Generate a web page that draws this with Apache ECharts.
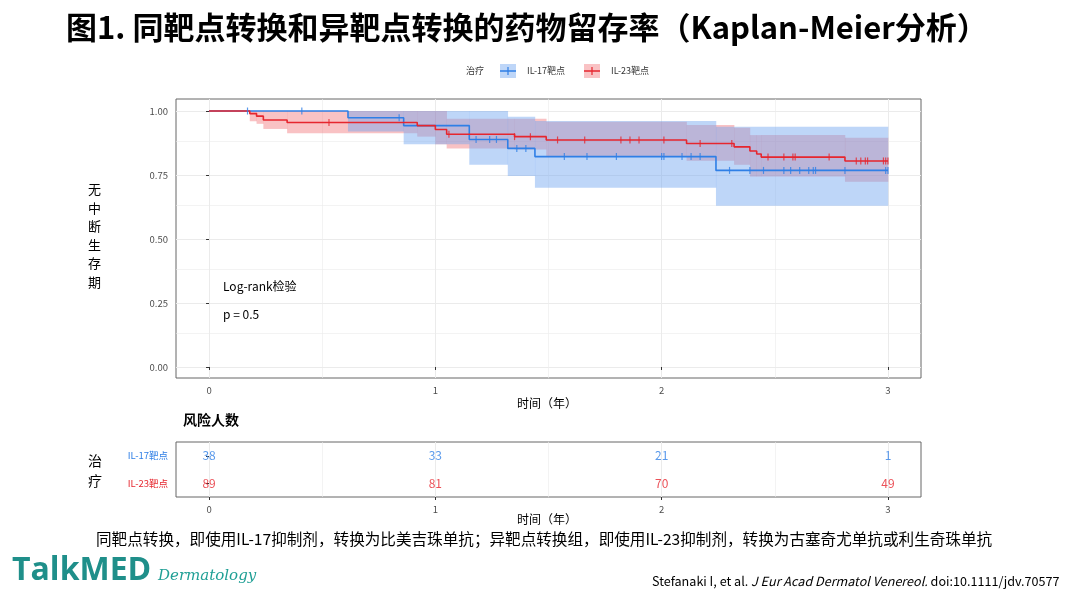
<!DOCTYPE html>
<html><head><meta charset="utf-8">
<script src="https://cdn.jsdelivr.net/npm/echarts@6/dist/echarts.min.js"></script>
<style>html,body{margin:0;padding:0;background:#fff}#c{width:1080px;height:600px}</style>
</head><body><div id="c"></div>
<script>
const blueT=[0,0.614,0.86,1.15,1.32,1.44,2.24,3.0];
const blueS=[1,0.974,0.943,0.889,0.854,0.822,0.768,0.768];
const blueLo=[1,0.92,0.87,0.79,0.746,0.70,0.63,0.63];
const blueHi=[1,1,1,1,0.978,0.961,0.939,0.939];
const redT=[0,0.18,0.21,0.24,0.345,0.92,1.0,1.05,1.35,1.49,2.11,2.32,2.39,2.42,2.44,2.81,3.0];
const redS=[1,0.99,0.98,0.965,0.955,0.943,0.928,0.909,0.90,0.887,0.873,0.86,0.844,0.832,0.82,0.805,0.805];
const redLo=[1,0.96,0.95,0.93,0.913,0.9,0.87,0.854,0.85,0.82,0.806,0.79,0.744,0.744,0.744,0.724,0.724];
const redHi=[1,1,1,1,1,1,1,0.97,0.97,0.958,0.945,0.935,0.906,0.906,0.906,0.896,0.896];
const blueC=[0.17,0.41,0.84,1.18,1.24,1.27,1.36,1.40,1.57,1.67,1.80,2.0,2.01,2.09,2.13,2.17,2.30,2.39,2.45,2.54,2.57,2.61,2.65,2.67,2.68,2.81,2.99,3.0];
const redC=[0.53,1.06,1.35,1.42,1.54,1.66,1.82,1.86,1.90,2.01,2.17,2.31,2.47,2.54,2.58,2.59,2.74,2.86,2.88,2.90,2.91,2.98,2.99,3.0];
const riskT=[0,1,2,3];
const blueRisk=[38,33,21,1];
const redRisk=[89,81,70,49];
const groups=['IL-17靶点','IL-23靶点'];
const xTicks=[0,1,2,3];
const yTicks=[0,0.25,0.5,0.75,1];

const BLUE='#2f7fe6', RED='#e6262e';
const BLUEF='rgba(110,165,240,0.45)', REDF='rgba(240,110,115,0.42)';
const F='"Noto Sans CJK SC","Noto Sans",sans-serif';
function at(T,S,t){let v=S[0];for(let i=0;i<T.length;i++){if(T[i]<=t+1e-9)v=S[i];}return v;}
function pairs(T,S){return T.map((t,i)=>[t,S[i]]);}
function segs(T,L,H){const o=[];for(let i=0;i<T.length-1;i++)o.push([T[i],T[i+1],L[i],H[i]]);return o;}
function band(color){return function(params,api){
  const a=api.coord([api.value(0),api.value(3)]), b=api.coord([api.value(1),api.value(2)]);
  return {type:'rect',shape:{x:a[0],y:a[1],width:b[0]-a[0]+0.3,height:b[1]-a[1]},style:{fill:color}};};}
const gridV=[]; for(let v=0;v<=3;v+=0.5)gridV.push({xAxis:v,lineStyle:{color:'#ebebeb',width:v%1===0?1:0.6,type:'solid'}});
const gridH=[]; for(let v=0;v<=1;v+=0.125)gridH.push({yAxis:v,lineStyle:{color:'#ebebeb',width:(v*4)%1===0?1:0.6,type:'solid'}});
const tk={show:true,length:3,lineStyle:{color:'#333'}};
const lab={color:'#4d4d4d',fontSize:9.5,fontFamily:F};
const option={
 animation:false,
 grid:[{left:176,top:99,width:745,height:279,show:true,borderColor:'#666',borderWidth:1},
       {left:176,top:442,width:745,height:55,show:true,borderColor:'#666',borderWidth:1}],
 xAxis:[0,1].map(g=>({type:'value',gridIndex:g,min:-0.146,max:3.146,axisLine:{show:false},splitLine:{show:false},
   axisTick:Object.assign({customValues:xTicks},tk),axisLabel:Object.assign({customValues:xTicks},lab)})),
 yAxis:[
  {type:'value',gridIndex:0,min:-0.043,max:1.047,axisLine:{show:false},splitLine:{show:false},
   axisTick:Object.assign({customValues:yTicks},tk),axisLabel:Object.assign({customValues:yTicks,formatter:v=>v.toFixed(2)},lab)},
  {type:'category',gridIndex:1,data:groups.slice().reverse(),axisLine:{show:false},axisTick:Object.assign({alignWithLabel:true},tk),splitLine:{show:false},
   axisLabel:{fontSize:9.5,fontFamily:F,color:(v)=>v===groups[0]?BLUE:RED}}],
 series:[
  {type:'line',z:0,xAxisIndex:0,yAxisIndex:0,data:[],markLine:{z:0,silent:true,symbol:'none',label:{show:false},data:gridV.concat(gridH)}},
  {type:'line',z:0,xAxisIndex:1,yAxisIndex:1,data:[],markLine:{z:0,silent:true,symbol:'none',label:{show:false},data:gridV.map(g=>({xAxis:g.xAxis,lineStyle:g.lineStyle}))}},
  {type:'custom',z:1,renderItem:band(REDF),data:segs(redT,redLo,redHi),silent:true},
  {type:'custom',z:1,renderItem:band(BLUEF),data:segs(blueT,blueLo,blueHi),silent:true},
  {type:'line',z:3,step:'end',data:pairs(blueT,blueS),symbol:'none',lineStyle:{color:BLUE,width:1.6}},
  {type:'line',z:3,step:'end',data:pairs(redT,redS),symbol:'none',lineStyle:{color:RED,width:1.6}},
  {type:'scatter',z:4,data:blueC.map(t=>[t,at(blueT,blueS,t)]),symbol:'rect',symbolSize:[1.2,7],itemStyle:{color:BLUE}},
  {type:'scatter',z:4,data:redC.map(t=>[t,at(redT,redS,t)]),symbol:'rect',symbolSize:[1.2,7],itemStyle:{color:RED}},
  {type:'scatter',z:5,xAxisIndex:1,yAxisIndex:1,symbolSize:0,data:riskT.map((t,i)=>[t,groups[0],blueRisk[i]]),label:{show:true,position:'inside',formatter:p=>p.value[2],color:BLUE,fontSize:12,fontFamily:F}},
  {type:'scatter',z:5,xAxisIndex:1,yAxisIndex:1,symbolSize:0,data:riskT.map((t,i)=>[t,groups[1],redRisk[i]]),label:{show:true,position:'inside',formatter:p=>p.value[2],color:RED,fontSize:12,fontFamily:F}}
 ],
 graphic:[
  {type:'text',x:66,y:12,style:{text:'图1. 同靶点转换和异靶点转换的药物留存率（Kaplan-Meier分析）',font:'bold 31px '+F,fill:'#000'}},
  {type:'text',x:466,y:66,style:{text:'治疗',font:'9px '+F,fill:'#333'}},
  {type:'rect',shape:{x:500,y:64,width:16,height:14},style:{fill:BLUEF}},
  {type:'line',shape:{x1:500,y1:71,x2:516,y2:71},style:{stroke:BLUE,lineWidth:1.5}},
  {type:'line',shape:{x1:508,y1:67,x2:508,y2:75},style:{stroke:BLUE,lineWidth:1.2}},
  {type:'text',x:527,y:66,style:{text:'IL-17靶点',font:'9px '+F,fill:'#333'}},
  {type:'rect',shape:{x:584,y:64,width:16,height:14},style:{fill:REDF}},
  {type:'line',shape:{x1:584,y1:71,x2:600,y2:71},style:{stroke:RED,lineWidth:1.5}},
  {type:'line',shape:{x1:592,y1:67,x2:592,y2:75},style:{stroke:RED,lineWidth:1.2}},
  {type:'text',x:611,y:66,style:{text:'IL-23靶点',font:'9px '+F,fill:'#333'}},
  {type:'text',x:88,y:180,style:{text:'无\n中\n断\n生\n存\n期',font:'13px '+F,fill:'#000',lineHeight:18.5}},
  {type:'text',x:223,y:280,style:{text:'Log-rank检验',font:'12px '+F,fill:'#000'}},
  {type:'text',x:223,y:308,style:{text:'p = 0.5',font:'12px '+F,fill:'#000'}},
  {type:'text',x:517,y:397,style:{text:'时间（年）',font:'12px '+F,fill:'#000'}},
  {type:'text',x:183,y:413,style:{text:'风险人数',font:'bold 14px '+F,fill:'#000'}},
  {type:'text',x:88,y:451,style:{text:'治\n疗',font:'14px '+F,fill:'#000',lineHeight:20}},
  {type:'text',x:517,y:513,style:{text:'时间（年）',font:'12px '+F,fill:'#000'}},
  {type:'text',x:96,y:531,style:{text:'同靶点转换，即使用IL-17抑制剂，转换为比美吉珠单抗；异靶点转换组，即使用IL-23抑制剂，转换为古塞奇尤单抗或利生奇珠单抗',font:'15.6px '+F,fill:'#000'}},
  {type:'text',x:12,y:555,style:{text:'TalkMED',font:'bold 32px "Open Sans",sans-serif',fill:'#1f8f8a'}},
  {type:'text',x:158,y:569,style:{text:'Dermatology',font:'italic 15px "DejaVu Serif",serif',fill:'#1f9f95'}},
  {type:'text',x:652,y:575,style:{rich:{a:{font:'12.6px '+F,fill:'#000'},i:{font:'italic 12.6px '+F,fill:'#000'}},text:'{a|Stefanaki I, et al. }{i|J Eur Acad Dermatol Venereol.}{a| doi:10.1111/jdv.70577}'}}
 ]
};
echarts.init(document.getElementById('c')).setOption(option);
</script></body></html>
